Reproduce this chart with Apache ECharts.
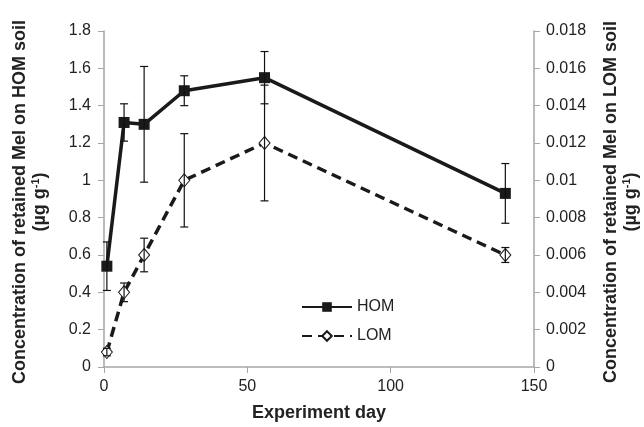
<!DOCTYPE html>
<html><head><meta charset="utf-8">
<script src="https://cdn.jsdelivr.net/npm/echarts@6/dist/echarts.min.js"></script>
<style>html,body{margin:0;padding:0;background:#fff}#c{width:644px;height:427px}</style>
</head><body><div id="c"></div>
<script>
const days = [1, 7, 14, 28, 56, 140];
const homValues = [0.54, 1.31, 1.30, 1.48, 1.55, 0.93];
const homLow = [0.41, 1.21, 0.99, 1.40, 1.41, 0.77];
const homHigh = [0.67, 1.41, 1.61, 1.56, 1.69, 1.09];
const lomValues = [0.0008, 0.004, 0.006, 0.010, 0.012, 0.006];
const lomLow = [0.0006, 0.0035, 0.0051, 0.0075, 0.0089, 0.0056];
const lomHigh = [0.0010, 0.0045, 0.0069, 0.0125, 0.0151, 0.0064];
const xTicks = {min: 0, max: 150, interval: 50};
const yLeft = {min: 0, max: 1.8, interval: 0.2};
const yRight = {min: 0, max: 0.018, interval: 0.002};
const leftTitle = 'Concentration of retained Mel on HOM soil';
const rightTitle = 'Concentration of retained Mel on LOM soil';
const xTitle = 'Experiment day';

const font = '"Liberation Sans", Arial, sans-serif';
const axisColor = '#a6a6a6';
const labelStyle = {color: '#222', fontSize: 16, fontFamily: font};

function errRender(params, api) {
  const x = api.value(0);
  const lo = api.coord([x, api.value(1)]);
  const hi = api.coord([x, api.value(2)]);
  const w = 4;
  const st = {stroke: '#111', lineWidth: 1.2};
  return {type: 'group', children: [
    {type: 'line', shape: {x1: lo[0], y1: lo[1], x2: hi[0], y2: hi[1]}, style: st},
    {type: 'line', shape: {x1: lo[0]-w, y1: lo[1], x2: lo[0]+w, y2: lo[1]}, style: st},
    {type: 'line', shape: {x1: hi[0]-w, y1: hi[1], x2: hi[0]+w, y2: hi[1]}, style: st}
  ]};
}

const titleBold = {fontSize: 18, fontWeight: 'bold', fontFamily: font, fill: '#222'};
function vtext(x, y, text, rich) {
  return {
    type: 'text', x: x, y: y, rotation: Math.PI / 2, z: 10,
    style: Object.assign({text: text, align: 'center', verticalAlign: 'middle'},
      rich ? {rich: rich} : titleBold)
  };
}
const unitRich = {
  b: Object.assign({}, titleBold, {lineHeight: 20}),
  s: Object.assign({}, titleBold, {fontSize: 11, verticalAlign: 'top', lineHeight: 20, padding: [0, 0, 9, 0]})
};

const chart = echarts.init(document.getElementById('c'));
chart.setOption({
  animation: false,
  backgroundColor: '#fff',
  grid: {left: 104, right: 110, top: 31, bottom: 55},
  legend: {
    orient: 'vertical', left: 296, top: 294, itemGap: 13, itemWidth: 50, itemHeight: 12,
    textStyle: {color: '#222', fontSize: 16, fontFamily: font},
    data: ['HOM', 'LOM']
  },
  xAxis: {
    type: 'value', min: xTicks.min, max: xTicks.max, interval: xTicks.interval,
    name: xTitle, nameLocation: 'middle', nameGap: 37,
    nameTextStyle: {color: '#222', fontSize: 18, fontWeight: 'bold', fontFamily: font},
    axisLine: {lineStyle: {color: axisColor, width: 1.5}},
    axisTick: {show: true, length: 6, lineStyle: {color: axisColor}},
    axisLabel: Object.assign({margin: 12}, labelStyle),
    splitLine: {show: false}
  },
  yAxis: [{
    type: 'value', min: yLeft.min, max: yLeft.max, interval: yLeft.interval,
    axisLine: {show: true, lineStyle: {color: axisColor, width: 1.5}},
    axisTick: {show: true, length: 6, lineStyle: {color: axisColor}},
    axisLabel: Object.assign({margin: 13}, labelStyle),
    splitLine: {show: false}
  }, {
    type: 'value', position: 'right', min: yRight.min, max: yRight.max, interval: yRight.interval,
    axisLine: {show: true, lineStyle: {color: axisColor, width: 1.5}},
    axisTick: {show: true, length: 6, lineStyle: {color: axisColor}},
    axisLabel: Object.assign({margin: 12}, labelStyle),
    splitLine: {show: false}
  }],
  graphic: [
    vtext(20, 202, leftTitle),
    vtext(40, 202, '{b|(µg g}{s|-1}{b|)}', unitRich),
    vtext(611, 202, rightTitle),
    vtext(631, 202, '{b|(µg g}{s|-1}{b|)}', unitRich)
  ],
  series: [{
    name: 'HOM', type: 'line', yAxisIndex: 0,
    data: days.map((d, i) => [d, homValues[i]]),
    symbol: 'rect', symbolSize: 11,
    lineStyle: {color: '#1a1a1a', width: 3.5},
    itemStyle: {color: '#1a1a1a'}, z: 3
  }, {
    name: 'LOM', type: 'line', yAxisIndex: 1,
    data: days.map((d, i) => [d, lomValues[i]]),
    symbol: 'diamond', symbolSize: [11, 13],
    lineStyle: {color: '#1a1a1a', width: 3.5, type: [10, 6]},
    itemStyle: {color: '#fff', borderColor: '#1a1a1a', borderWidth: 1}, z: 3
  }, {
    type: 'custom', yAxisIndex: 0, renderItem: errRender, z: 4,
    data: days.map((d, i) => [d, homLow[i], homHigh[i]])
  }, {
    type: 'custom', yAxisIndex: 1, renderItem: errRender, z: 4,
    data: days.map((d, i) => [d, lomLow[i], lomHigh[i]])
  }]
});
</script></body></html>
